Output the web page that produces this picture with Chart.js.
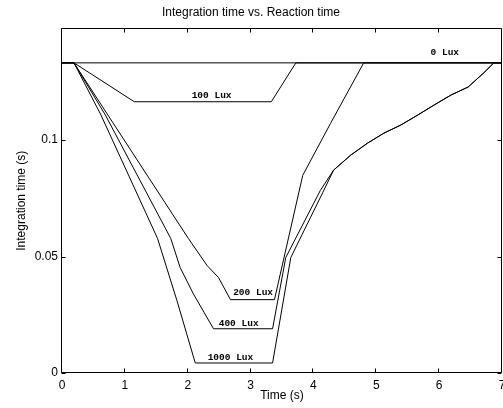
<!DOCTYPE html>
<html><head><meta charset="utf-8">
<script src="https://cdn.jsdelivr.net/npm/chart.js@4.4.1/dist/chart.umd.min.js"></script>
<style>html,body{margin:0;padding:0;background:#fff}</style>
</head><body>
<canvas id="c" width="503" height="408" style="width:503px;height:408px;display:block"></canvas>
<script>
// ---- data ----
const titleText = "Integration time vs. Reaction time";
const xLabel = "Time (s)";
const yLabel = "Integration time (s)";
const xTickValues = [0, 1, 2, 3, 4, 5, 6, 7];
const yTickValues = [0, 0.05, 0.1];
const yTickLabels = ["0", "0.05", "0.1"];

const lux0T = [0, 7];
const lux0V = [0.1332, 0.1332];

const lux100T = [0, 0.19, 1.15, 3.33, 3.72, 7];
const lux100V = [0.1332, 0.1332, 0.1165, 0.1165, 0.1332, 0.1332];

const lux200T = [0, 0.19, 0.73, 2.01, 2.31, 2.49, 2.68, 3.38, 3.83, 4.27, 4.80, 7];
const lux200V = [0.1332, 0.1332, 0.1108, 0.0578, 0.0461, 0.0410, 0.0315, 0.0315, 0.0849, 0.1071, 0.1332, 0.1332];

const lux400T = [0, 0.19, 0.69, 1.73, 1.88, 2.09, 2.41, 3.35, 3.56, 4.11, 4.32, 4.59, 4.86, 5.12, 5.39, 5.66, 5.92, 6.19, 6.46, 6.71, 6.87, 7];
const lux400V = [0.1332, 0.1332, 0.1108, 0.0578, 0.0453, 0.0340, 0.0190, 0.0190, 0.0496, 0.0784, 0.0871, 0.0935, 0.0987, 0.1030, 0.1065, 0.1108, 0.1151, 0.1194, 0.1228, 0.1289, 0.1332, 0.1332];

const lux1000T = [0, 0.19, 0.62, 1.52, 1.83, 2.12, 3.35, 3.64, 4.15, 4.32, 4.59, 4.86, 5.12, 5.39, 5.66, 5.92, 6.19, 6.46, 6.71, 6.87, 7];
const lux1000V = [0.1332, 0.1332, 0.1108, 0.0578, 0.0310, 0.0043, 0.0043, 0.0496, 0.0776, 0.0871, 0.0935, 0.0987, 0.1030, 0.1065, 0.1108, 0.1151, 0.1194, 0.1228, 0.1289, 0.1332, 0.1332];

const labelTexts = ["0 Lux", "100 Lux", "200 Lux", "400 Lux", "1000 Lux"];
const labelT = [6.09, 2.38, 3.04, 2.81, 2.68];
const labelV = [0.1375, 0.1190, 0.0345, 0.0211, 0.0065];

const xMin = 0, xMax = 7, yMin = 0, yMax = 0.148;

// ---- build ----
function pts(t, v) { return t.map((x, i) => ({x: x, y: v[i]})); }
function ds(t, v) {
  return {data: pts(t, v), borderColor: '#000', borderWidth: 1, pointRadius: 0, fill: false, tension: 0};
}

const boxPlugin = {
  id: 'box',
  afterDraw(chart) {
    const {ctx, chartArea: a} = chart;
    const xs = chart.scales.x, ys = chart.scales.y;
    ctx.save();
    ctx.strokeStyle = '#000';
    ctx.lineWidth = 1;
    const L = Math.round(a.left) - 0.5, R = Math.round(a.right) - 0.5;
    const T = Math.round(a.top) + 0.5, B = Math.round(a.bottom) - 0.5;
    ctx.beginPath();
    ctx.rect(L, T, R - L, B - T);
    const tl = 4;
    xTickValues.forEach(v => {
      const px = Math.round(xs.getPixelForValue(v)) - 0.5;
      ctx.moveTo(px, B); ctx.lineTo(px, B - tl);
      ctx.moveTo(px, T); ctx.lineTo(px, T + tl);
    });
    yTickValues.forEach(v => {
      const py = Math.round(ys.getPixelForValue(v)) + 0.5;
      ctx.moveTo(L, py); ctx.lineTo(L + tl, py);
      ctx.moveTo(R, py); ctx.lineTo(R - tl, py);
    });
    ctx.stroke();
    ctx.restore();
  }
};

const labelPlugin = {
  id: 'luxLabels',
  afterDatasetsDraw(chart) {
    const {ctx} = chart;
    const xs = chart.scales.x, ys = chart.scales.y;
    ctx.save();
    ctx.fillStyle = '#000';
    ctx.font = 'bold 9.5px "Liberation Mono", "DejaVu Sans Mono", monospace';
    ctx.textAlign = 'center';
    ctx.textBaseline = 'middle';
    labelTexts.forEach((s, i) => {
      ctx.fillText(s, xs.getPixelForValue(labelT[i]), ys.getPixelForValue(labelV[i]));
    });
    ctx.restore();
  }
};

const FONT = '"Liberation Sans", Arial, sans-serif';

new Chart(document.getElementById('c'), {
  type: 'line',
  data: {
    datasets: [ds(lux0T, lux0V), ds(lux100T, lux100V), ds(lux200T, lux200V), ds(lux400T, lux400V), ds(lux1000T, lux1000V)]
  },
  options: {
    responsive: false,
    animation: false,
    devicePixelRatio: 1,
    layout: {padding: {top: 0, right: 1, bottom: 0, left: 0}},
    plugins: {
      legend: {display: false},
      tooltip: {enabled: false},
      title: {display: true, text: titleText, color: '#000', font: {family: FONT, size: 12, weight: 'normal'}, padding: {top: 5, bottom: 9}}
    },
    scales: {
      x: {
        type: 'linear', min: xMin, max: xMax,
        grid: {display: false, drawTicks: false},
        border: {display: false},
        ticks: {stepSize: 1, color: '#000', font: {family: FONT, size: 12}, padding: 5, maxRotation: 0,
                callback: v => String(v)},
        afterBuildTicks: s => { s.ticks = xTickValues.map(v => ({value: v})); },
        title: {display: true, text: xLabel, color: '#000', font: {family: FONT, size: 12}, padding: {top: 0, bottom: 5}},
        afterFit: s => { s.height = 35; s.paddingLeft = 0; s.paddingRight = 0; }
      },
      y: {
        type: 'linear', min: yMin, max: yMax,
        grid: {display: false, drawTicks: false},
        border: {display: false},
        ticks: {color: '#000', font: {family: FONT, size: 12}, padding: 4,
                callback: (v, i) => yTickLabels[i]},
        afterBuildTicks: s => { s.ticks = yTickValues.map(v => ({value: v})); },
        title: {display: true, text: yLabel, color: '#000', font: {family: FONT, size: 12}, padding: {top: 14, bottom: 0}},
        afterFit: s => { s.width = 62; s.paddingTop = 0; s.paddingBottom = 0; }
      }
    }
  },
  plugins: [boxPlugin, labelPlugin]
});
</script>
</body></html>
